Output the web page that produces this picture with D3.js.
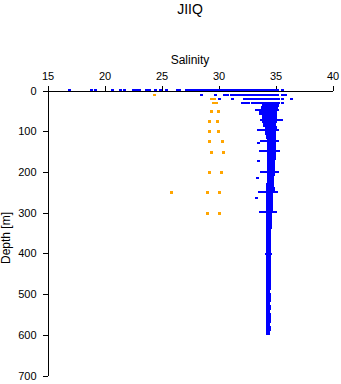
<!DOCTYPE html>
<html>
<head>
<meta charset="utf-8">
<script src="https://cdn.jsdelivr.net/npm/d3@7"></script>
<style>
  html, body { margin: 0; padding: 0; background: #fff; }
  svg { display: block; }
  text { font-family: "Liberation Sans", Arial, Helvetica, sans-serif; fill: #000; }
</style>
</head>
<body>
<svg id="chart" width="341" height="384"></svg>
<script>
// ---- Data ----
const title = "JIIQ";
const xLabel = "Salinity";
const yLabel = "Depth [m]";
const xTicks = [15, 20, 25, 30, 35, 40];
const yTicks = [0, 100, 200, 300, 400, 500, 600, 700];

// Blue: dense CTD profile core (depth band centre, min / max salinity)
const coreDepth = [35,45,55,65,75,85,95,105,115,125,135,145,155,165,175,185,195,205,215,225,235,245,255,265,275,285,295,305,315,325,335,345,355,365,375,385,395,405,415,425,435,445,455,465,475,485,495,505,515,525,535,545,555,565,575,585,595];
const coreMin = [33.97,33.82,33.67,33.92,33.94,34.07,34.20,34.22,34.34,34.37,34.42,34.40,34.42,34.38,34.42,34.40,34.38,34.38,34.36,34.36,34.34,34.34,34.32,34.34,34.32,34.34,34.32,34.30,34.32,34.30,34.32,34.30,34.32,34.30,34.32,34.30,34.30,34.32,34.32,34.30,34.32,34.32,34.30,34.32,34.30,34.30,34.32,34.30,34.30,34.32,34.30,34.28,34.30,34.30,34.28,34.30,34.30];
const coreMax = [35.16,35.10,34.98,34.96,35.00,34.94,34.96,34.88,34.94,34.92,34.94,34.93,34.90,34.88,34.84,34.83,34.86,34.80,34.78,34.76,34.78,34.82,34.68,34.64,34.62,34.64,34.62,34.58,34.54,34.56,34.52,34.50,34.48,34.48,34.46,34.48,34.50,34.46,34.45,34.47,34.44,34.46,34.44,34.44,34.46,34.44,34.42,34.44,34.46,34.42,34.44,34.42,34.45,34.44,34.42,34.44,34.42];

// Blue: individual sample rows (depth, list of salinity runs [from, to])
const rowDepth = [0, 12, 21, 31, 50, 74, 98, 126, 131, 150, 174, 201, 216, 250, 265, 300, 402];
const rowRuns = [
  [[16.9],[18.9],[19.2],[20.7],[21.4],[21.75],[22.5],[22.8],[23.1],[23.65],[23.95],[24.5],[24.95],[25.4],[26.4,26.55],[27.15,35.2],[35.6]],
  [[28.55],[29.7],[30.5,30.8],[31.1,35.2],[35.65,35.9]],
  [[30.1],[31.2],[32.3,35.25],[35.6],[36.4]],
  [[32.1,32.6],[33.0,35.25],[35.6]],
  [[33.3,35.2]],
  [[33.75,35.55]],
  [[33.5,35.2]],
  [[33.76,35.2]],
  [[33.5]],
  [[33.7,35.25]],
  [[33.5]],
  [[33.76,35.16]],
  [[33.45]],
  [[33.6,35.1]],
  [[33.35]],
  [[33.65,35.02]],
  [[34.2,34.6]]
];

// Orange: bottle samples
const orangeDepth = [11, 21, 21, 31, 31, 50, 50, 75, 75, 100, 100, 125, 125, 150, 150, 200, 200, 250, 250, 250, 300, 300];
const orangeSal   = [24.4, 29.35, 29.65, 29.55, 29.85, 29.4, 30.0, 29.2, 29.9, 29.2, 30.0, 29.2, 30.35, 29.4, 30.4, 29.2, 30.3, 25.9, 29.05, 30.1, 29.05, 30.1];

// ---- Chart ----
const svg = d3.select("#chart");
const x = d3.scaleLinear().domain([15, 40]).range([47.5, 332.5]);
const y = d3.scaleLinear().domain([0, 700]).range([90.5, 375.5]);

const blue = "#0000ff", orange = "#ffa500";

// Title
svg.append("text").attr("x", 190).attr("y", 14).attr("text-anchor", "middle")
  .style("font-size", "14px").text(title);

// X label
svg.append("text").attr("x", 190).attr("y", 64).attr("text-anchor", "middle")
  .style("font-size", "12px").text(xLabel);

// Y label
svg.append("text").attr("transform", "translate(10,238) rotate(-90)")
  .attr("text-anchor", "middle").style("font-size", "12px").text(yLabel);

// Axes
const xAxis = svg.append("g").attr("transform", `translate(0,${y(0)})`)
  .call(d3.axisTop(x).tickValues(xTicks).tickSize(5).tickSizeOuter(0).tickPadding(6));
const yAxis = svg.append("g").attr("transform", `translate(${x(15)},0)`)
  .call(d3.axisLeft(y).tickValues(yTicks).tickSize(5).tickSizeOuter(0).tickPadding(6));
[xAxis, yAxis].forEach(g => {
  g.selectAll("text").style("font-size", "11px").style("font-family", '"Liberation Sans", Arial, sans-serif').attr("fill", "#000");
  g.selectAll("line,path").attr("stroke", "#000").attr("shape-rendering", "crispEdges");
});

// Orange samples
svg.append("g").selectAll("rect").data(orangeDepth.map((d, i) => ({d, s: orangeSal[i]})))
  .join("rect")
  .attr("x", p => x(p.s) - 1.5).attr("y", p => y(p.d) - 1)
  .attr("width", 3).attr("height", p => p.d < 40 ? 2 : 3).attr("fill", orange)
  .attr("shape-rendering", "crispEdges");

// Blue core profile
const core = coreDepth.map((d, i) => ({d, lo: coreMin[i], hi: coreMax[i]}));
svg.append("g").selectAll("rect").data(core).join("rect")
  .attr("x", p => x(p.lo) - 1.5)
  .attr("y", p => y(p.d - 5) - 1)
  .attr("width", p => x(p.hi) - x(p.lo) + 3)
  .attr("height", p => y(p.d + 5) - y(p.d - 5) + 1)
  .attr("fill", blue).attr("shape-rendering", "crispEdges");

// Blue rows
const runs = [];
rowDepth.forEach((d, i) => rowRuns[i].forEach(r => runs.push({d, a: r[0], b: r.length > 1 ? r[1] : r[0]})));
svg.append("g").selectAll("rect").data(runs).join("rect")
  .attr("x", p => x(p.a) - 1.5).attr("y", p => y(p.d) - 1.5)
  .attr("width", p => x(p.b) - x(p.a) + 3).attr("height", 2)
  .attr("fill", blue).attr("shape-rendering", "crispEdges");
</script>
</body>
</html>
